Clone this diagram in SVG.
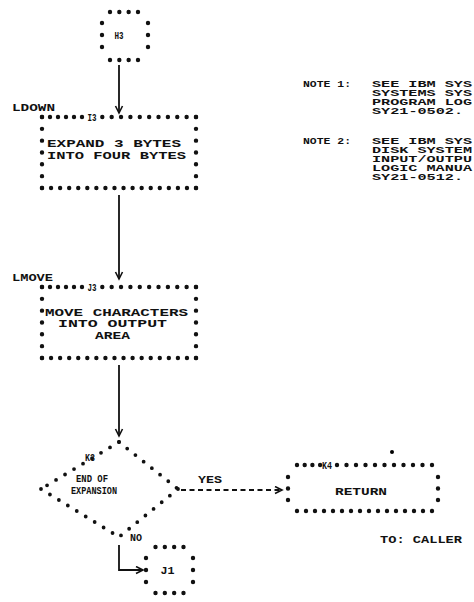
<svg xmlns="http://www.w3.org/2000/svg" width="474" height="602" viewBox="0 0 474 602">
<style>
.d{fill:none;stroke:#111;stroke-width:4.4;stroke-linecap:round}
.dg{fill:none;stroke:#111;stroke-width:3.8;stroke-linecap:round;stroke-dasharray:0 10.5}
.t{font-family:"Liberation Mono","DejaVu Sans Mono",monospace;font-weight:bold;font-size:11px;fill:#111}
.n{font-size:9px}
.ln{fill:none;stroke:#111;stroke-width:1.8}
</style>
<defs>
<marker id="v" markerUnits="userSpaceOnUse" markerWidth="10" markerHeight="10" refX="8" refY="4.5" orient="auto">
<path d="M1,1 L8,4.5 L1,8" fill="none" stroke="#111" stroke-width="1.6"/>
</marker>
</defs>
<rect width="474" height="602" fill="#fff"/>

<g id="connectors">
<path class="ln" d="M119,65 V113" marker-end="url(#v)"/>
<path class="ln" d="M119,195 V279" marker-end="url(#v)"/>
<path class="ln" d="M119,365 V436" marker-end="url(#v)"/>
<path class="ln" d="M181,490 H282" stroke-dasharray="5 3.5" marker-end="url(#v)"/>
<text class="t" x="210" y="483" text-anchor="middle" textLength="24" lengthAdjust="spacingAndGlyphs">YES</text>
<path class="ln" d="M119,545 V570 H143" marker-end="url(#v)"/>
<text class="t" x="136" y="541" text-anchor="middle" textLength="12" lengthAdjust="spacingAndGlyphs">NO</text>
</g>

<g id="H3">
<line class="d" x1="110" y1="12" x2="138.1" y2="12" stroke-dasharray="0 9.33"/>
<line class="d" x1="110" y1="60" x2="138.1" y2="60" stroke-dasharray="0 9.33"/>
<line class="d" x1="102" y1="23" x2="102" y2="47.1" stroke-dasharray="0 12"/>
<line class="d" x1="148" y1="23" x2="148" y2="47.1" stroke-dasharray="0 12"/>
<text class="t" x="119" y="39" text-anchor="middle" textLength="9" lengthAdjust="spacingAndGlyphs">H3</text>
</g>

<g id="I3">
<text class="t" x="12" y="111" textLength="43" lengthAdjust="spacingAndGlyphs">LDOWN</text>
<line class="d" x1="42" y1="117" x2="82.1" y2="117" stroke-dasharray="0 8"/>
<text class="t" x="92" y="121" text-anchor="middle" textLength="9" lengthAdjust="spacingAndGlyphs">I3</text>
<line class="d" x1="102.3" y1="117" x2="196.1" y2="117" stroke-dasharray="0 9.37"/>
<line class="d" x1="42" y1="188" x2="196.1" y2="188" stroke-dasharray="0 9.06"/>
<line class="d" x1="42" y1="117" x2="42" y2="188.1" stroke-dasharray="0 11.83"/>
<line class="d" x1="196" y1="117" x2="196" y2="188.1" stroke-dasharray="0 11.83"/>
<text class="t" x="47" y="146.5" textLength="134" lengthAdjust="spacingAndGlyphs">EXPAND 3 BYTES</text>
<text class="t" x="47" y="158.5" textLength="139" lengthAdjust="spacingAndGlyphs">INTO FOUR BYTES</text>
</g>

<g id="J3">
<text class="t" x="12" y="281" textLength="41" lengthAdjust="spacingAndGlyphs">LMOVE</text>
<line class="d" x1="42" y1="287" x2="82.1" y2="287" stroke-dasharray="0 8"/>
<text class="t" x="92" y="291" text-anchor="middle" textLength="9" lengthAdjust="spacingAndGlyphs">J3</text>
<line class="d" x1="102.3" y1="287" x2="196.1" y2="287" stroke-dasharray="0 9.37"/>
<line class="d" x1="42" y1="358" x2="196.1" y2="358" stroke-dasharray="0 9.06"/>
<line class="d" x1="42" y1="287" x2="42" y2="358.1" stroke-dasharray="0 11.83"/>
<line class="d" x1="196" y1="287" x2="196" y2="358.1" stroke-dasharray="0 11.83"/>
<text class="t" x="45" y="315.5" textLength="143" lengthAdjust="spacingAndGlyphs">MOVE CHARACTERS</text>
<text class="t" x="58" y="327" textLength="109" lengthAdjust="spacingAndGlyphs">INTO OUTPUT</text>
<text class="t" x="95" y="338.5" textLength="35" lengthAdjust="spacingAndGlyphs">AREA</text>
</g>

<g id="K3">
<path class="dg" d="M119,442 L41,489"/>
<path class="dg" d="M41,489 L119,537"/>
<path class="dg" d="M119,442 L178,489"/>
<path class="dg" d="M178,489 L119,537"/>
<text class="t" x="90" y="461" text-anchor="middle" textLength="10" lengthAdjust="spacingAndGlyphs">K3</text>
<text class="t" x="92" y="482" text-anchor="middle" textLength="32" lengthAdjust="spacingAndGlyphs">END OF</text>
<text class="t" x="94" y="494" text-anchor="middle" textLength="46" lengthAdjust="spacingAndGlyphs">EXPANSION</text>
</g>

<g id="K4">
<circle cx="392" cy="452" r="2"/>
<line class="d" x1="297" y1="465" x2="320.1" y2="465" stroke-dasharray="0 7.7"/>
<text class="t" x="327" y="469" text-anchor="middle" textLength="10" lengthAdjust="spacingAndGlyphs">K4</text>
<line class="d" x1="337" y1="465" x2="432.1" y2="465" stroke-dasharray="0 9.5"/>
<line class="d" x1="297" y1="511" x2="432.1" y2="511" stroke-dasharray="0 9"/>
<line class="d" x1="288" y1="477" x2="288" y2="500.1" stroke-dasharray="0 11.5"/>
<line class="d" x1="438" y1="477" x2="438" y2="500.1" stroke-dasharray="0 11.5"/>
<text class="t" x="361" y="495" text-anchor="middle" textLength="52" lengthAdjust="spacingAndGlyphs">RETURN</text>
<text class="t" x="380" y="543" textLength="82" lengthAdjust="spacingAndGlyphs">TO: CALLER</text>
</g>

<g id="J1">
<line class="d" x1="155.5" y1="547" x2="183.6" y2="547" stroke-dasharray="0 9.33"/>
<line class="d" x1="155.5" y1="593" x2="183.6" y2="593" stroke-dasharray="0 9.33"/>
<line class="d" x1="146" y1="558" x2="146" y2="582.1" stroke-dasharray="0 12"/>
<line class="d" x1="193" y1="558" x2="193" y2="582.1" stroke-dasharray="0 12"/>
<text class="t" x="167.5" y="574" text-anchor="middle" textLength="14" lengthAdjust="spacingAndGlyphs">J1</text>
</g>

<g id="notes">
<text class="t n" x="303" y="87" textLength="48" lengthAdjust="spacingAndGlyphs">NOTE 1:</text>
<text class="t n" x="372" y="87" textLength="100" lengthAdjust="spacingAndGlyphs">SEE IBM SYS</text>
<text class="t n" x="372" y="96" textLength="100" lengthAdjust="spacingAndGlyphs">SYSTEMS SYS</text>
<text class="t n" x="372" y="105" textLength="100" lengthAdjust="spacingAndGlyphs">PROGRAM LOG</text>
<text class="t n" x="372" y="114" textLength="91" lengthAdjust="spacingAndGlyphs">SY21-0502.</text>
<text class="t n" x="303" y="144" textLength="48" lengthAdjust="spacingAndGlyphs">NOTE 2:</text>
<text class="t n" x="372" y="144" textLength="100" lengthAdjust="spacingAndGlyphs">SEE IBM SYS</text>
<text class="t n" x="372" y="153" textLength="100" lengthAdjust="spacingAndGlyphs">DISK SYSTEM</text>
<text class="t n" x="372" y="162" textLength="100" lengthAdjust="spacingAndGlyphs">INPUT/OUTPU</text>
<text class="t n" x="372" y="171" textLength="100" lengthAdjust="spacingAndGlyphs">LOGIC MANUA</text>
<text class="t n" x="372" y="180" textLength="91" lengthAdjust="spacingAndGlyphs">SY21-0512.</text>
</g>
</svg>
